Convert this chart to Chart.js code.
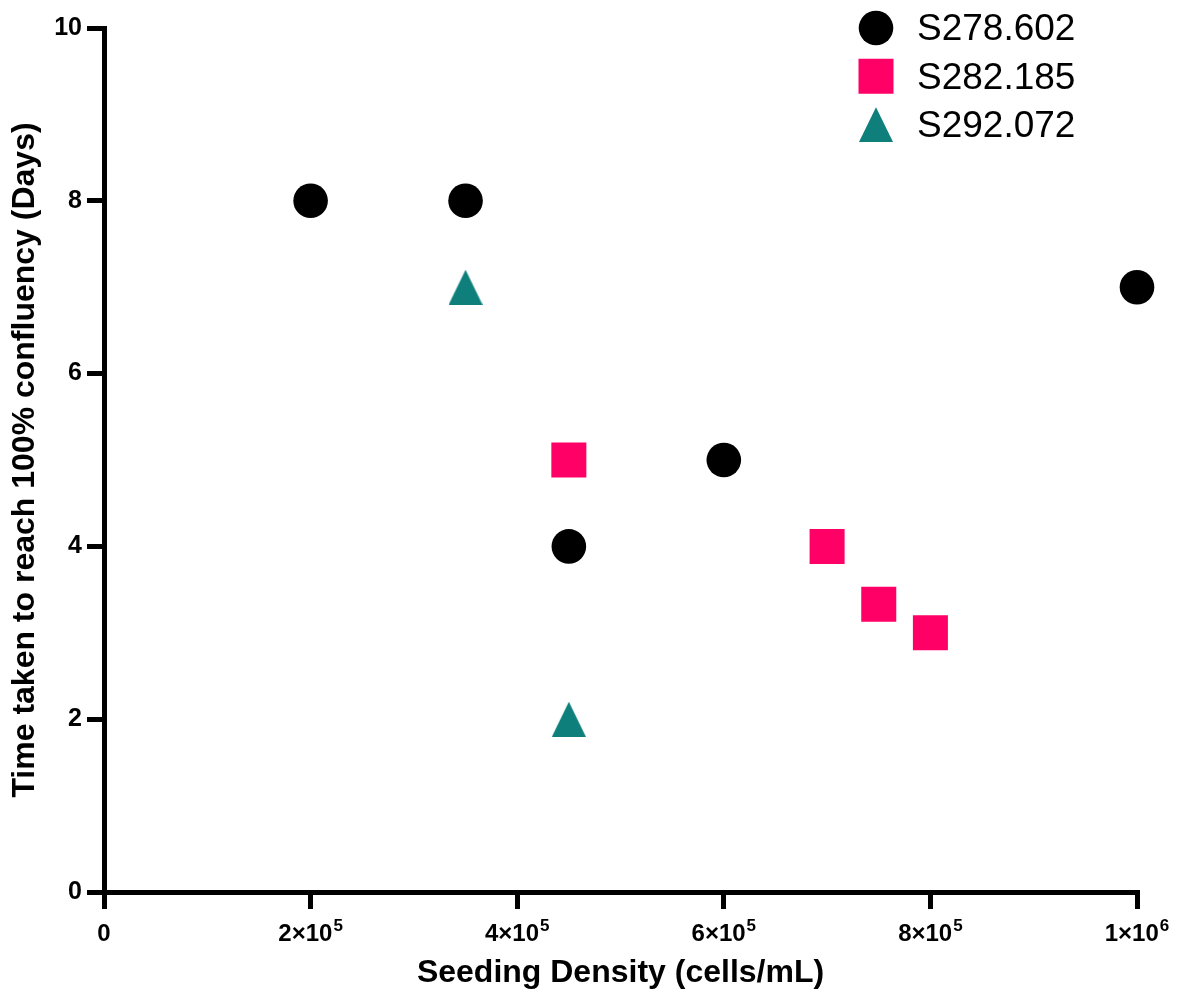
<!DOCTYPE html>
<html><head><meta charset="utf-8">
<script src="https://cdn.jsdelivr.net/npm/chart.js@4/dist/chart.umd.min.js"></script>
<style>html,body{margin:0;padding:0;background:#fff}canvas{display:block}</style>
</head><body>
<canvas id="c" width="1183" height="996"></canvas>
<script>
// ---- data ----
const seriesNames = ['S278.602', 'S282.185', 'S292.072'];
const s278x = [200000, 350000, 450000, 600000, 1000000];
const s278y = [8, 8, 4, 5, 7];
const s282x = [450000, 700000, 750000, 800000];
const s282y = [5, 4, 3.33, 3];
const s292x = [350000, 450000];
const s292y = [7, 2];
const xTickValues = [0, 200000, 400000, 600000, 800000, 1000000];
const xTickMantissa = ['0', '2', '4', '6', '8', '1'];
const xTickExponent = ['', '5', '5', '5', '5', '6'];
const yTickValues = [0, 2, 4, 6, 8, 10];
const xTitle = 'Seeding Density (cells/mL)';
const yTitle = 'Time taken to reach 100% confluency (Days)';

const FONT = '"Liberation Sans", Arial, Helvetica, sans-serif';
const colors = ['#000000', '#FF0066', '#0F7F7B'];
const kinds = ['circle', 'square', 'triangle'];

function pts(xs, ys) { return xs.map((x, i) => ({ x: x, y: ys[i] })); }

function triangleImage(color, w, h) {
  const cv = document.createElement('canvas');
  cv.width = w; cv.height = h;
  const g = cv.getContext('2d');
  g.fillStyle = color;
  g.beginPath();
  g.moveTo(w / 2, 0); g.lineTo(w, h); g.lineTo(0, h); g.closePath();
  g.fill();
  return cv;
}

function drawMarker(ctx, kind, x, y, color) {
  ctx.fillStyle = color;
  ctx.beginPath();
  if (kind === 'circle') {
    ctx.arc(x, y, 17.3, 0, Math.PI * 2);
  } else if (kind === 'square') {
    ctx.rect(x - 17.5, y - 17.5, 35, 35);
  } else {
    ctx.moveTo(x, y - 17.3); ctx.lineTo(x + 17, y + 17.3); ctx.lineTo(x - 17, y + 17.3); ctx.closePath();
  }
  ctx.fill();
}

const cornerLegend = {
  id: 'cornerLegend',
  afterDraw(chart) {
    const ctx = chart.ctx;
    ctx.save();
    ctx.font = '37px ' + FONT;
    ctx.textBaseline = 'middle';
    ctx.textAlign = 'left';
    chart.data.datasets.forEach((ds, i) => {
      const cy = 28 + i * 48.3;
      drawMarker(ctx, kinds[i], 876, cy, colors[i]);
      ctx.fillStyle = '#000';
      ctx.fillText(ds.label, 917, cy + 2);
    });
    ctx.restore();
  }
};

// x tick labels with real superscript exponents, positioned by the x scale
const sciTicks = {
  id: 'sciTicks',
  afterDraw(chart) {
    const ctx = chart.ctx, sx = chart.scales.x;
    const base = sx.bottom - 104 + 49; // baseline of main digits
    const mainFont = 'bold 24px ' + FONT, supFont = 'bold 17px ' + FONT;
    ctx.save();
    ctx.fillStyle = '#000';
    ctx.textBaseline = 'alphabetic';
    ctx.textAlign = 'left';
    xTickValues.forEach((v, i) => {
      const px = sx.getPixelForValue(v);
      const main = xTickExponent[i] ? xTickMantissa[i] + '×10' : xTickMantissa[i];
      ctx.font = mainFont;
      const wm = ctx.measureText(main).width;
      ctx.font = supFont;
      const ws = xTickExponent[i] ? ctx.measureText(xTickExponent[i]).width + 1 : 0;
      const x0 = px - (wm + ws) / 2;
      ctx.font = mainFont;
      ctx.fillText(main, x0, base);
      if (xTickExponent[i]) {
        ctx.font = supFont;
        ctx.fillText(xTickExponent[i], x0 + wm + 1, base - 10.5);
      }
    });
    ctx.restore();
  }
};

const axisColor = '#000';
new Chart(document.getElementById('c'), {
  type: 'scatter',
  data: {
    datasets: [
      { label: seriesNames[0], data: pts(s278x, s278y), pointStyle: 'circle', pointRadius: 17.3,
        backgroundColor: colors[0], borderWidth: 0, clip: false },
      { label: seriesNames[1], data: pts(s282x, s282y), pointStyle: 'rect', pointRadius: 24.75,
        backgroundColor: colors[1], borderWidth: 0, clip: false },
      { label: seriesNames[2], data: pts(s292x, s292y), pointStyle: triangleImage(colors[2], 34, 35),
        pointRadius: 17, backgroundColor: colors[2], borderWidth: 0, clip: false }
    ]
  },
  options: {
    responsive: false,
    animation: false,
    events: [],
    layout: { padding: { left: 0, top: 28, right: 46, bottom: 0 } },
    plugins: { legend: { display: false }, tooltip: { enabled: false } },
    scales: {
      x: {
        type: 'linear', min: 0, max: 1000000,
        afterBuildTicks(s) { s.ticks = xTickValues.map(v => ({ value: v })); },
        afterFit(s) { s.height = 104; },
        ticks: { display: false },
        grid: { drawOnChartArea: false, drawTicks: true, tickLength: 17, lineWidth: 5, color: axisColor },
        border: { display: true, width: 5, color: axisColor },
        title: { display: true, text: xTitle, color: '#000', padding: { top: 4, bottom: 4 },
          font: { family: FONT, size: 32, weight: 'bold' } }
      },
      y: {
        type: 'linear', min: 0, max: 10,
        afterBuildTicks(s) { s.ticks = yTickValues.map(v => ({ value: v })); },
        afterFit(s) { s.width = 104; },
        ticks: { color: '#000', padding: 5, font: { family: FONT, size: 25, weight: 'bold' } },
        grid: { drawOnChartArea: false, drawTicks: true, tickLength: 17, lineWidth: 5, color: axisColor },
        border: { display: true, width: 5, color: axisColor },
        title: { display: true, text: yTitle, color: '#000', padding: { top: 6, bottom: 6 },
          font: { family: FONT, size: 32, weight: 'bold' } }
      }
    }
  },
  plugins: [cornerLegend, sciTicks]
});
</script>
</body></html>
